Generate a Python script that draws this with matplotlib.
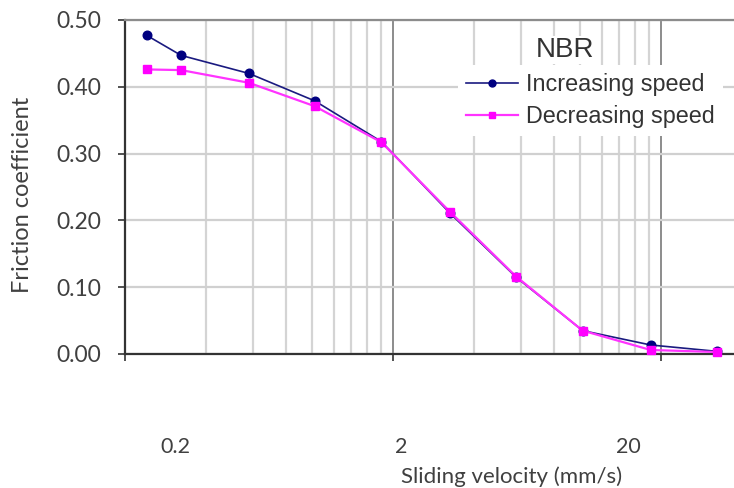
import matplotlib
matplotlib.use("Agg")
import matplotlib.pyplot as plt
from matplotlib.ticker import FixedLocator, NullFormatter
from matplotlib.lines import Line2D

# ---- data ----
velocity = [0.241, 0.324, 0.58, 1.02, 1.81, 3.26, 5.76, 10.2, 18.3, 32.3]
increasing = [0.477, 0.447, 0.420, 0.379, 0.318, 0.211, 0.115, 0.035, 0.0135, 0.004]
decreasing = [0.426, 0.425, 0.406, 0.371, 0.317, 0.213, 0.116, 0.035, 0.006, 0.003]
y_ticks = [0.0, 0.1, 0.2, 0.3, 0.4, 0.5]
y_tick_labels = ["0.00", "0.10", "0.20", "0.30", "0.40", "0.50"]
x_major = [0.2, 2, 20]
x_tick_labels = ["0.2", "2", "20"]
series_names = ["Increasing speed", "Decreasing speed"]
legend_title = "NBR"

W, H = 734, 488
fig = plt.figure(figsize=(W / 100, H / 100), dpi=100)
ax = fig.add_axes([125 / W, 1 - 354 / H, (W - 125) / W, (354 - 20) / H])

ax.set_xscale("log")
ax.set_xlim(0.2, 0.2 * 10 ** ((W - 125) / 268))
ax.set_ylim(0, 0.5)

# grid
ax.xaxis.set_major_locator(FixedLocator(x_major))
ax.xaxis.set_minor_locator(FixedLocator([m * 0.2 * 10 ** d for d in range(3) for m in range(2, 10)]))
ax.xaxis.set_major_formatter(NullFormatter())
ax.xaxis.set_minor_formatter(NullFormatter())
ax.grid(True, which="minor", axis="x", color="#d4d4d4", lw=1.6, zorder=0)
ax.grid(True, which="major", axis="x", color="#8c8c8c", lw=1.4, zorder=0)
ax.set_yticks(y_ticks)
ax.grid(True, which="major", axis="y", color="#d0d0d0", lw=1.6, zorder=0)
ax.set_axisbelow(True)
ax.tick_params(axis="x", which="major", direction="out", length=5, width=1.2, color="#333333")
ax.tick_params(axis="x", which="minor", length=0)
ax.set_yticklabels(y_tick_labels, fontfamily="Lato", fontsize=16.5, color="#404040")
ax.tick_params(axis="y", direction="out", length=5, width=1.2, pad=12, color="#333333")

for s in ["left", "bottom"]:
    ax.spines[s].set_color("#333333")
    ax.spines[s].set_linewidth(1.6)
ax.spines["top"].set_color("#8c8c8c")
ax.spines["top"].set_linewidth(1.6)
ax.spines["right"].set_visible(False)

# series
ax.plot(velocity, increasing, color="#1a1a80", lw=1.2, marker="o", ms=6.2,
        mfc="#000080", mec="#000080", zorder=3, clip_on=False)
ax.plot(velocity, decreasing, color="#ff33ff", lw=1.6, marker="s", ms=5.8,
        mfc="#ff00ff", mec="#ff00ff", zorder=4, clip_on=False)

# legend
handles = [
    Line2D([], [], color="#1a1a80", lw=1.2, marker="o", ms=5, mfc="#000080", mec="#000080"),
    Line2D([], [], color="#ff33ff", lw=1.6, marker="s", ms=5, mfc="#ff00ff", mec="#ff00ff"),
]
leg = ax.legend(handles, series_names, loc="upper left",
                bbox_to_anchor=((458 - 125) / (W - 125), (354 - 65) / (354 - 20)),
                frameon=True, facecolor="white", edgecolor="none", framealpha=1,
                fancybox=False, borderpad=0.35, handlelength=2.2, handletextpad=0.35,
                labelspacing=0.38, borderaxespad=0,
                prop={"family": "Liberation Sans", "size": 16.8})
for t in leg.get_texts():
    t.set_color("#333333")
ax.text((565 - 125) / (W - 125), (354 - 50) / (354 - 20), legend_title,
        transform=ax.transAxes, ha="center", va="center",
        fontfamily="Liberation Sans", fontsize=20, color="#333333",
        bbox=dict(facecolor="white", edgecolor="none", pad=1), zorder=5)

# x tick labels (offset below the axis as in the reference)
label_px = [175, 401, 628]
for lab, px in zip(x_tick_labels, label_px):
    fig.text(px / W, 1 - 447 / H, lab, ha="center", va="center",
             fontfamily="Lato", fontsize=15.5, color="#404040")
fig.text(512 / W, 1 - 477 / H, "Sliding velocity (mm/s)", ha="center", va="center",
         fontfamily="Lato", fontsize=16, color="#404040")
fig.text(23 / W, 1 - 195 / H, "Friction coefficient", ha="center", va="center",
         rotation=90, fontfamily="Lato", fontsize=17, color="#404040")

fig.savefig("out.png", dpi=100)
